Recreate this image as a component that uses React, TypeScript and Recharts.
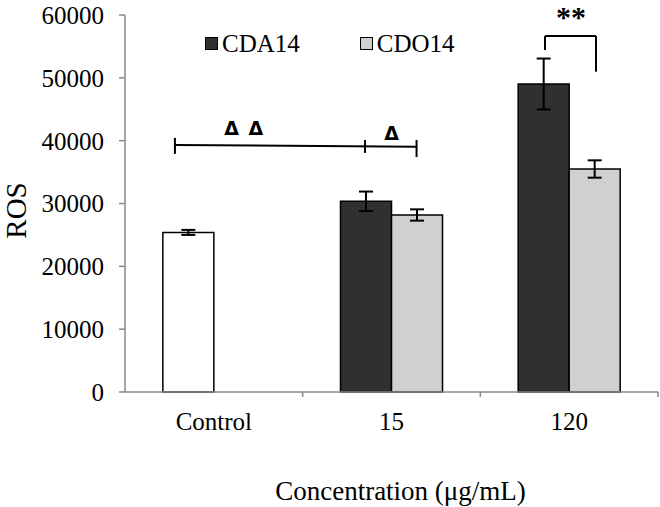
import React from 'react';
import {
  ComposedChart,
  Bar,
  XAxis,
  YAxis,
  ErrorBar,
  Cell,
  Legend,
  ReferenceLine,
  ReferenceDot,
  Label,
} from 'recharts';

// ---- data ----
const categories = ['Control', '15', '120'];
const cda14 = [25400, 30350, 49020];
const cda14Err = [400, 1550, 4050];
const cdo14: (number | null)[] = [null, 28170, 35490];
const cdo14Err: (number | null)[] = [null, 900, 1380];
const yTicks = [0, 10000, 20000, 30000, 40000, 50000, 60000];

// ---- significance annotations (x in band units: category i spans [i, i+1]) ----
const sigLineX = [0.281, 1.641];
const sigLineY = [39300, 39050];
const sigCapX = [0.281, 1.351, 1.641];
const sigCapLow = [37900, 38050, 37400];
const sigCapHigh = [40450, 40100, 40100];
const triX = [0.6, 0.737, 1.501];
const triY = [42020, 42020, 41220];
const triText = 'Δ';
const bracketX = [2.364, 2.651];
const bracketTop = 56660;
const bracketLow = [54430, 50980];
const starX = 2.51;
const starY = 60800;
const starText = '**';

const DARK = '#303030';
const LIGHT = '#d0d0d0';
const AXIS = '#898989';
const FONT = '"Liberation Serif", "Times New Roman", serif';

const data = categories.map((c, i) => ({
  name: c,
  band: i,
  CDA14: cda14[i],
  cda14Err: cda14Err[i],
  CDO14: cdo14[i],
  cdo14Err: cdo14Err[i],
}));

const CategoryTick = (props: any) => {
  const { x, y, payload, width, visibleTicksCount } = props;
  const band = width / visibleTicksCount;
  const bx = x + band / 2;
  return (
    <g>
      <line x1={bx} x2={bx} y1={y - 6} y2={y - 1} stroke={AXIS} strokeWidth={1.5} />
      <text x={x} y={y + 32} textAnchor="middle" fontSize={25} fontFamily={FONT} fill="#000">
        {payload.value}
      </text>
    </g>
  );
};

const renderLegend = (props: any) => {
  const { payload } = props;
  return (
    <div style={{ display: 'flex', alignItems: 'center', height: 27, fontFamily: FONT, fontSize: 25, color: '#000' }}>
      {(payload || []).map((p: any, i: number) => (
        <div key={p.value} style={{ display: 'flex', alignItems: 'center', marginRight: i === 0 ? 60 : 0 }}>
          <svg width={13} height={13} style={{ marginRight: 4 }}>
            <rect x={0.5} y={0.5} width={12} height={12} fill={p.color} stroke="#000" strokeWidth={1} />
          </svg>
          <span style={{ lineHeight: '27px' }}>{p.value}</span>
        </div>
      ))}
    </div>
  );
};

const RosLabel = (props: any) => {
  const { viewBox } = props;
  const cy = viewBox.y + viewBox.height / 2 + 7;
  return (
    <text
      transform={`translate(${viewBox.x + 26}, ${cy}) rotate(-90)`}
      textAnchor="middle"
      fontSize={29}
      fontFamily={FONT}
      fill="#000"
    >
      ROS
    </text>
  );
};

const XLabel = (props: any) => {
  const { viewBox } = props;
  return (
    <text
      x={viewBox.x + viewBox.width / 2 + 9}
      y={viewBox.y + 108}
      textAnchor="middle"
      fontSize={27}
      fontFamily={FONT}
      fill="#000"
    >
      Concentration (μg/mL)
    </text>
  );
};

export default function App() {
  return (
    <div style={{ position: 'absolute', left: 0, top: 0, background: '#fff' }}>
      <ComposedChart
        width={660}
        height={507}
        data={data}
        margin={{ top: 15, right: 2, bottom: 75, left: 0 }}
        barCategoryGap="21.3%"
        barGap={0}
        style={{ fontFamily: FONT }}
      >
        <XAxis
          xAxisId="cat"
          dataKey="name"
          height={40}
          axisLine={{ stroke: AXIS, strokeWidth: 1.5 }}
          tickLine={false}
          tickSize={6}
          tickMargin={0}
          tick={<CategoryTick />}
          interval={0}
        >
          <Label content={<XLabel />} />
        </XAxis>
        <XAxis xAxisId="num" dataKey="band" type="number" domain={[0, 3]} hide allowDataOverflow />
        <YAxis
          width={125}
          domain={[0, 60000]}
          ticks={yTicks}
          interval={0}
          axisLine={{ stroke: AXIS, strokeWidth: 1.5 }}
          tickLine={{ stroke: AXIS, strokeWidth: 1.5 }}
          tickSize={6}
          tickMargin={15}
          tick={{ fontSize: 25, fontFamily: FONT, fill: '#000' }}
        >
          <Label content={<RosLabel />} />
        </YAxis>
        <Legend
          layout="horizontal"
          verticalAlign="middle"
          align="center"
          content={renderLegend}
          wrapperStyle={{ top: 30, left: 205, width: 'auto' }}
        />
        <Bar xAxisId="cat" dataKey="CDA14" fill={DARK} stroke="#000" strokeWidth={1.5} isAnimationActive={false}>
          {data.map((d) => (
            <Cell key={d.name} fill={d.name === 'Control' ? '#ffffff' : DARK} />
          ))}
          <ErrorBar dataKey="cda14Err" width={7} stroke="#000" strokeWidth={2} direction="y" />
        </Bar>
        <Bar xAxisId="cat" dataKey="CDO14" fill={LIGHT} stroke="#000" strokeWidth={1.5} isAnimationActive={false}>
          <ErrorBar dataKey="cdo14Err" width={7} stroke="#000" strokeWidth={2} direction="y" />
        </Bar>

        {/* horizontal significance line with caps */}
        <ReferenceLine
          xAxisId="num"
          segment={[
            { x: sigLineX[0], y: sigLineY[0] },
            { x: sigLineX[1], y: sigLineY[1] },
          ]}
          stroke="#000"
          strokeWidth={2}
          ifOverflow="visible"
        />
        {sigCapX.map((x, i) => (
          <ReferenceLine
            key={'cap' + i}
            xAxisId="num"
            segment={[
              { x, y: sigCapLow[i] },
              { x, y: sigCapHigh[i] },
            ]}
            stroke="#000"
            strokeWidth={2}
            ifOverflow="visible"
          />
        ))}
        {triX.map((x, i) => (
          <ReferenceDot
            key={'tri' + i}
            xAxisId="num"
            x={x}
            y={triY[i]}
            r={1}
            ifOverflow="visible"
            shape={(p: any) => (
              <text x={p.cx} y={p.cy + 7} textAnchor="middle" fontSize={19} fontWeight="bold" fontFamily='"DejaVu Sans", sans-serif' fill="#000">
                {triText}
              </text>
            )}
          />
        ))}

        {/* bracket at 120 */}
        <ReferenceLine
          xAxisId="num"
          segment={[
            { x: bracketX[0], y: bracketLow[0] },
            { x: bracketX[0], y: bracketTop },
          ]}
          stroke="#000"
          strokeWidth={2}
          ifOverflow="visible"
        />
        <ReferenceLine
          xAxisId="num"
          segment={[
            { x: bracketX[0], y: bracketTop },
            { x: bracketX[1], y: bracketTop },
          ]}
          stroke="#000"
          strokeWidth={2}
          ifOverflow="visible"
        />
        <ReferenceLine
          xAxisId="num"
          segment={[
            { x: bracketX[1], y: bracketTop },
            { x: bracketX[1], y: bracketLow[1] },
          ]}
          stroke="#000"
          strokeWidth={2}
          ifOverflow="visible"
        />
        <ReferenceDot
          xAxisId="num"
          x={starX}
          y={starY}
          r={1}
          ifOverflow="visible"
          shape={(p: any) => (
            <text x={p.cx} y={p.cy + 17} textAnchor="middle" fontSize={30} fontWeight="bold" fontFamily={FONT} fill="#000">
              {starText}
            </text>
          )}
        />
      </ComposedChart>
    </div>
  );
}
